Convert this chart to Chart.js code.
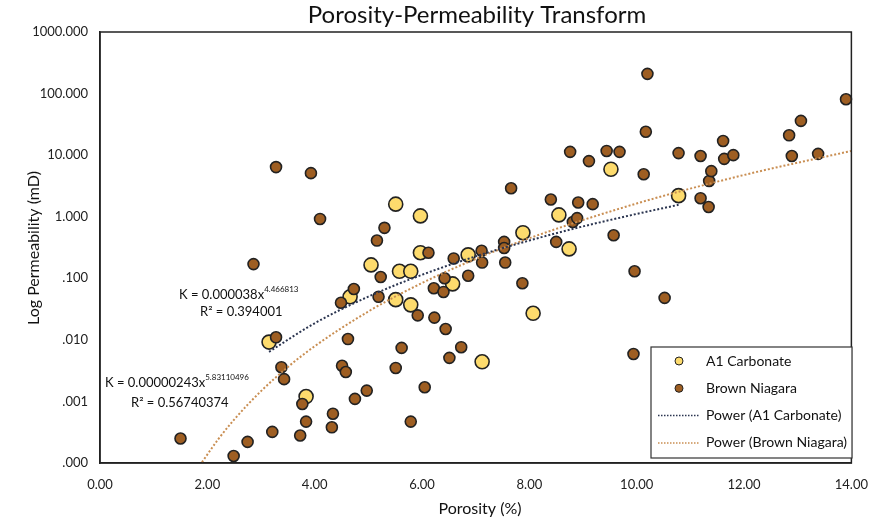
<!DOCTYPE html>
<html>
<head>
<meta charset="utf-8">
<script src="https://cdn.jsdelivr.net/npm/chart.js@4.4.1/dist/chart.umd.min.js"></script>
<style>
  html, body { margin: 0; padding: 0; background: #fff; }
</style>
</head>
<body>
<canvas id="grafico" width="882" height="521"></canvas>
<script>
// A1 Carbonate (porosity %, permeability mD)
const a1Porosidade = [3.15, 3.84, 4.66, 5.05, 5.51, 5.51, 5.58, 5.79, 5.79, 5.97, 5.97, 6.57, 6.86, 7.12, 7.88, 8.07, 8.55, 8.74, 9.52, 10.78];
const a1Permeab   = [0.0092, 0.0012, 0.050, 0.165, 1.6, 0.045, 0.13, 0.13, 0.037, 1.03, 0.26, 0.081, 0.24, 0.0044, 0.55, 0.027, 1.07, 0.30, 5.9, 2.2];

// Brown Niagara
const bnPorosidade = [1.50, 2.49, 2.75, 2.86, 3.21, 3.28, 3.28, 3.38, 3.43, 3.73, 3.77, 3.84, 3.93, 4.10, 4.32, 4.34, 4.49, 4.51, 4.58, 4.62,
                      4.73, 4.75, 4.97, 5.16, 5.19, 5.23, 5.30, 5.51, 5.62, 5.79, 5.92, 6.05, 6.12, 6.22, 6.23, 6.40, 6.42, 6.44, 6.51, 6.59,
                      6.73, 6.86, 7.11, 7.12, 7.53, 7.53, 7.55, 7.66, 7.87, 8.40, 8.50, 8.81, 8.89, 8.76, 8.91, 9.11, 9.18, 9.44, 9.57, 9.68,
                      9.94, 9.96, 10.13, 10.17, 10.20, 10.52, 10.78, 11.19, 11.19, 11.34, 11.35, 11.39, 11.61, 11.63, 11.80, 12.84, 13.06, 12.89, 13.38, 13.90];
const bnPermeab   = [0.00025, 0.00013, 0.00022, 0.17, 0.00032, 0.011, 6.4, 0.0036, 0.0023, 0.00028, 0.00091, 0.00047, 5.1, 0.92, 0.00038, 0.00063, 0.040, 0.0038, 0.0030, 0.0103,
                      0.067, 0.0011, 0.0015, 0.41, 0.050, 0.105, 0.66, 0.0035, 0.0074, 0.00047, 0.025, 0.0017, 0.26, 0.069, 0.023, 0.060, 0.10, 0.015, 0.0051, 0.21,
                      0.0076, 0.11, 0.28, 0.18, 0.39, 0.31, 0.18, 2.9, 0.083, 1.9, 0.39, 0.82, 0.95, 11.3, 1.7, 8.0, 1.6, 11.7, 0.50, 11.3,
                      0.0059, 0.13, 4.9, 24, 209, 0.048, 10.8, 9.7, 2.0, 1.44, 3.8, 5.5, 17, 8.7, 10, 21, 36, 9.7, 10.5, 81];

// Linhas de tendência (potência)
const a1TendX = [3.15, 4, 5, 6, 7, 8, 9, 10, 10.78];
const a1TendY = [0.0064, 0.0186, 0.0504, 0.114, 0.227, 0.411, 0.696, 1.11, 1.56];
const bnTendX = [1.9, 2.2, 2.5, 3, 3.5, 4, 5, 6, 7, 8, 10, 12, 14];
const bnTendY = [0.000103, 0.000241, 0.000508, 0.00147, 0.00362, 0.00788, 0.0289, 0.0838, 0.206, 0.448, 1.64, 4.76, 11.7];

const yTicks = [0.0001, 0.001, 0.01, 0.1, 1, 10, 100, 1000];
const xTicks = [0, 2, 4, 6, 8, 10, 12, 14];

const fonte = 'Lato, "Open Sans", sans-serif';
const corA1 = '#FDDB6D';
const corBN = '#9E5E22';
const corTendA1 = '#2B3550';
const corTendBN = '#C98E52';

const pares = (xs, ys) => xs.map((x, i) => ({ x: x, y: ys[i] }));

// Textos extras: título, eixos, equações, legenda
const textosPlugin = {
    id: 'textos',
    afterDraw(chart) {
        const ctx = chart.ctx;
        const area = chart.chartArea;
        ctx.save();

        // moldura da área do gráfico
        ctx.strokeStyle = '#222';
        ctx.lineWidth = 1.5;
        ctx.strokeRect(area.left, area.top, area.right - area.left, area.bottom - area.top);

        ctx.fillStyle = '#111';
        ctx.textAlign = 'center';
        ctx.textBaseline = 'middle';
        ctx.font = '24px ' + fonte;
        ctx.fillText('Porosity-Permeability Transform', 477, 15);

        ctx.font = '16px ' + fonte;
        ctx.fillText('Porosity (%)', 480, 509);
        ctx.save();
        ctx.translate(34, 248);
        ctx.rotate(-Math.PI / 2);
        ctx.fillText('Log Permeability (mD)', 0, 0);
        ctx.restore();

        // equações
        function equacao(x, y, base, exp) {
            ctx.textAlign = 'left';
            ctx.font = '13px ' + fonte;
            ctx.fillText(base, x, y);
            const w = ctx.measureText(base).width;
            ctx.font = '8px ' + fonte;
            ctx.fillText(exp, x + w, y - 6);
        }
        equacao(179, 295, 'K = 0.000038x', '4.466813');
        ctx.textAlign = 'left';
        ctx.font = '13px ' + fonte;
        ctx.fillText('R² = 0.394001', 200, 312);
        equacao(105, 383, 'K = 0.00000243x', '5.83110496');
        ctx.textAlign = 'left';
        ctx.font = '13px ' + fonte;
        ctx.fillText('R² = 0.56740374', 131, 403);

        // legenda
        ctx.fillStyle = '#fff';
        ctx.fillRect(651, 347, 201, 111);
        ctx.strokeStyle = '#333';
        ctx.lineWidth = 1.2;
        ctx.strokeRect(651, 347, 201, 111);
        const linhas = [
            { txt: 'A1 Carbonate', tipo: 'p', cor: corA1 },
            { txt: 'Brown Niagara', tipo: 'p', cor: corBN },
            { txt: 'Power (A1 Carbonate)', tipo: 'l', cor: corTendA1 },
            { txt: 'Power (Brown Niagara)', tipo: 'l', cor: corTendBN }
        ];
        linhas.forEach((l, i) => {
            const y = 361 + i * 27.3;
            if (l.tipo === 'p') {
                ctx.beginPath();
                ctx.arc(679, y, 4, 0, Math.PI * 2);
                ctx.fillStyle = l.cor;
                ctx.fill();
                ctx.strokeStyle = '#222';
                ctx.lineWidth = 1;
                ctx.stroke();
            } else {
                ctx.beginPath();
                ctx.setLineDash([1.5, 1.5]);
                ctx.moveTo(658, y);
                ctx.lineTo(699, y);
                ctx.strokeStyle = l.cor;
                ctx.lineWidth = 1.5;
                ctx.stroke();
                ctx.setLineDash([]);
            }
            ctx.fillStyle = '#111';
            ctx.font = '14px ' + fonte;
            ctx.textAlign = 'left';
            ctx.fillText(l.txt, 706, y);
        });
        ctx.restore();
    }
};

new Chart(document.getElementById('grafico').getContext('2d'), {
    type: 'scatter',
    data: {
        datasets: [
            {
                label: 'Power (A1 Carbonate)',
                type: 'line',
                data: pares(a1TendX, a1TendY),
                borderColor: corTendA1,
                borderWidth: 2,
                borderDash: [2, 2],
                pointRadius: 0,
                cubicInterpolationMode: 'monotone',
                fill: false,
                order: 0
            },
            {
                label: 'Power (Brown Niagara)',
                type: 'line',
                data: pares(bnTendX, bnTendY),
                borderColor: corTendBN,
                borderWidth: 2,
                borderDash: [2, 2],
                pointRadius: 0,
                cubicInterpolationMode: 'monotone',
                fill: false,
                order: 0
            },
            {
                label: 'A1 Carbonate',
                data: pares(a1Porosidade, a1Permeab),
                backgroundColor: corA1,
                borderColor: '#222',
                borderWidth: 1.6,
                pointRadius: 7,
                order: 2
            },
            {
                label: 'Brown Niagara',
                data: pares(bnPorosidade, bnPermeab),
                backgroundColor: corBN,
                borderColor: '#222',
                borderWidth: 1.6,
                pointRadius: 5.5,
                order: 1
            }
        ]
    },
    options: {
        responsive: false,
        devicePixelRatio: 1,
        animation: false,
        clip: false,
        layout: { padding: { left: 0, top: 32, right: 23, bottom: 0 } },
        plugins: {
            legend: { display: false },
            title: { display: false },
            tooltip: { enabled: false }
        },
        scales: {
            x: {
                type: 'linear',
                min: 0,
                max: 14,
                afterBuildTicks: (scale) => { scale.ticks = xTicks.map(v => ({ value: v })); },
                afterFit: (scale) => { scale.height = 58; },
                grid: { display: false, drawTicks: false },
                border: { display: true, color: '#222', width: 1.5 },
                ticks: {
                    padding: 14,
                    color: '#222',
                    font: { family: fonte, size: 13 },
                    callback: (v) => Number(v).toFixed(2)
                }
            },
            y: {
                type: 'logarithmic',
                min: 0.0001,
                max: 1000,
                afterBuildTicks: (scale) => { scale.ticks = yTicks.map(v => ({ value: v })); },
                afterFit: (scale) => { scale.width = 100; },
                grid: { display: false, drawTicks: false },
                border: { display: true, color: '#222', width: 1.5 },
                ticks: {
                    padding: 12,
                    color: '#222',
                    font: { family: fonte, size: 13 },
                    callback: (v) => {
                        let s = Number(v).toFixed(3);
                        if (s.startsWith('0')) s = s.slice(1);
                        return s;
                    }
                }
            }
        }
    },
    plugins: [textosPlugin]
});
</script>
</body>
</html>
